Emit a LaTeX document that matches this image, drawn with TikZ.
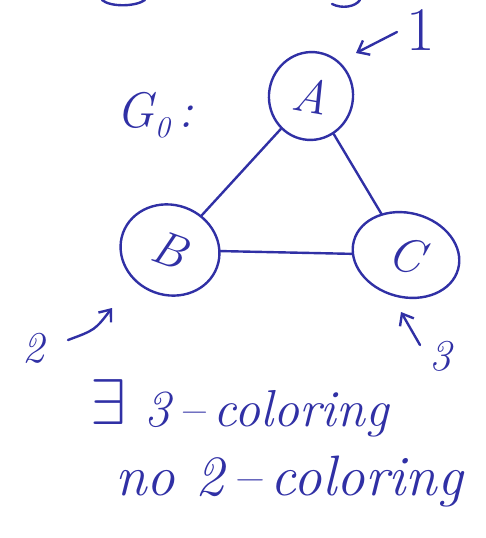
\documentclass[tikz,border=0pt]{standalone}
\usepackage{graphicx}
\usetikzlibrary{shapes.geometric,arrows.meta}
\definecolor{ink}{RGB}{48,48,165}
\begin{document}
\begin{tikzpicture}[x=1pt,y=-1pt,
  pen/.style={draw=ink,line width=2.4pt,line cap=round,line join=round},
  vtx/.style={pen,ellipse,inner sep=0pt,font=\fontsize{48}{48}\selectfont\itshape,text=ink},
  lbl/.style={text=ink,inner sep=0pt,font=\fontsize{44}{44}\selectfont\itshape},
  hw/.style={text=ink,inner sep=0pt,anchor=west},
  pointer/.style={pen,-{Straight Barb[length=10pt,width=16pt]}}]
\useasboundingbox (0,0) rectangle (485,538);
% fragments of a cut-off line above
\draw[pen] (102,0) .. controls (110,7) and (135,7) .. (145,0);
\draw[pen] (332,4) .. controls (342,9) and (355,7) .. (360,0);
% vertices
\node[vtx,minimum width=84pt,minimum height=88pt,rotate=-10] (A) at (311,96) {A};
\node[vtx,minimum width=100pt,minimum height=90pt,rotate=-20] (B) at (170,250) {B};
\node[vtx,minimum width=108pt,minimum height=84pt,rotate=-15] (C) at (406,255) {C};
% edges
\draw[pen] (A) -- (B);
\draw[pen] (A) -- (C);
\draw[pen] (B) -- (C);
% graph name
\node[lbl,font=\fontsize{50}{50}\selectfont\itshape] (G) at (155,115) {G\raisebox{-10pt}{\fontsize{30}{30}\selectfont 0}\,:};
% order pointers
\coordinate (p1s) at (397,32);
\coordinate (p1e) at (356,53);
\draw[pointer] (p1s) -- (p1e);
\node[lbl,font=\fontsize{62}{62}\selectfont] (n1) at (421,30) {1};
\coordinate (p2s) at (68,340);
\coordinate (p2e) at (112,308);
\draw[pointer] (p2s) .. controls (95,330) .. (p2e);
\node[lbl] (n2) at (34,348) {2};
\coordinate (p3s) at (420,345);
\coordinate (p3e) at (401,312);
\draw[pointer] (p3s) -- (p3e);
\node[lbl] (n3) at (440,356) {3};
% conclusions
\node[hw,font=\fontsize{52}{52}\selectfont\itshape] (t1) at (90,408) {\raisebox{2pt}{\scalebox{2.6}{$\exists$}}\ 3\,--\,coloring};
\node[hw,font=\fontsize{57}{57}\selectfont\itshape] (t2) at (115,482) {no\ 2\,--\,coloring};
\end{tikzpicture}
\end{document}
